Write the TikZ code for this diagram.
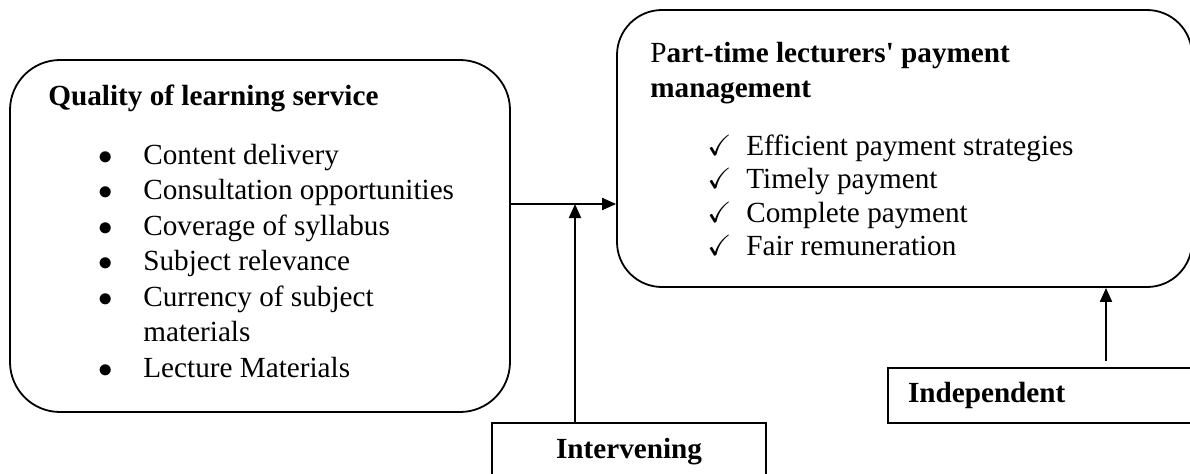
\documentclass[tikz,border=0pt]{standalone}
\usepackage{amssymb}
\usepackage{fontspec}
\setmainfont{Liberation Serif}
\usetikzlibrary{arrows.meta}
\tikzset{
  varbox/.style={draw, rounded corners=25pt, line width=0.9pt},
  labelbox/.style={draw, line width=0.7pt, font=\bfseries\fontsize{14.6}{16}\selectfont},
  txt/.style={anchor=base west, inner sep=0pt},
  arr/.style={-{Triangle[length=7pt,width=6pt]}, line width=1pt}
}
\newcommand{\blt}{$\bullet$}
\begin{document}
\begin{tikzpicture}[x=0.5pt,y=-0.5pt]
      \useasboundingbox (0,0) rectangle (1190,473);
      \clip (0,0) rectangle (1190,473);
      % variable boxes
      \node[varbox, minimum width=250pt, minimum height=176pt] (quality) at (260,236) {};
      \node[varbox, rounded corners=22.5pt, minimum width=287.5pt, minimum height=138.5pt] (payment) at (904.5,148.5) {};
      \node[labelbox, minimum width=137pt, minimum height=29pt] (intervening) at (629,452) {Intervening};
      \node[labelbox, text width=140pt, align=left, inner xsep=10pt, minimum height=27.5pt] (independent) at (1048,395.5) {Independent};
      % texts in the boxes
      \node[txt, font=\bfseries\fontsize{14.6}{16}\selectfont] (qtitle) at (48,105) {Quality of learning service};
      \node[txt, font=\fontsize{14.6}{17.75}\selectfont] (qitems) at (98,164) {%
        \begin{tabular}[t]{@{}p{22.5pt}@{}l@{}}
          \blt & Content delivery\\
          \blt & Consultation opportunities\\
          \blt & Coverage of syllabus\\
          \blt & Subject relevance\\
          \blt & Currency of subject\\
               & materials\\
          \blt & Lecture Materials
        \end{tabular}};
      \node[txt, font=\fontsize{14.6}{17.5}\selectfont] (ptitle) at (650,62) {%
        \begin{tabular}[t]{@{}l@{}}
          P\textbf{art-time lecturers\textquotesingle{} payment}\\
          \textbf{management}
        \end{tabular}};
      \node[txt, font=\fontsize{14.6}{16.75}\selectfont] (pitems) at (707,155) {%
        \begin{tabular}[t]{@{}p{19.5pt}@{}l@{}}
          $\checkmark$ & Efficient payment strategies\\
          $\checkmark$ & Timely payment\\
          $\checkmark$ & Complete payment\\
          $\checkmark$ & Fair remuneration
        \end{tabular}};
      % connectors
      \coordinate (join) at (575,204);
      \coordinate (indep) at (1106,361);
      \begin{scope}[arr]
        \draw (quality.east |- join) to (payment.west |- join);
        \draw (intervening.north -| join) to (join);
        \draw (indep) to (indep |- payment.south);
      \end{scope}
    \end{tikzpicture}
\end{document}
